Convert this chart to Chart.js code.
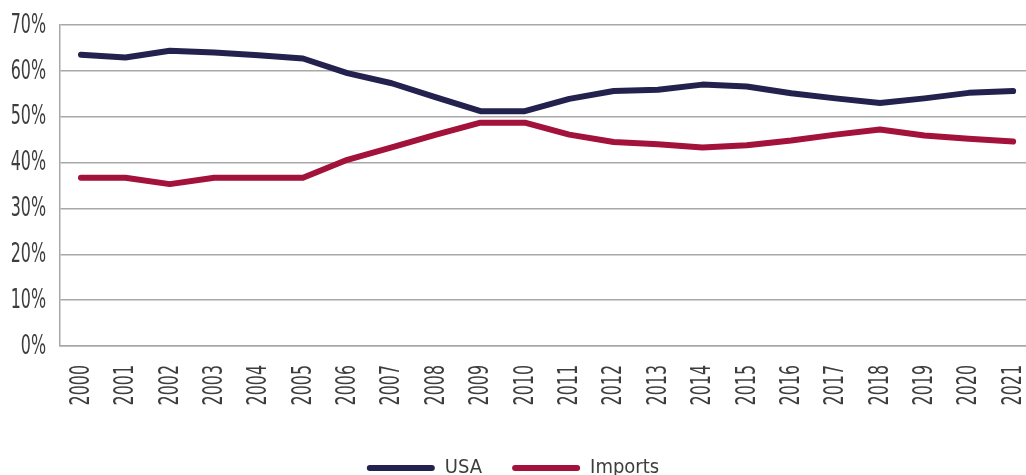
<!DOCTYPE html>
<html>
<head>
<meta charset="utf-8">
<script src="https://cdn.jsdelivr.net/npm/chart.js@4/dist/chart.umd.min.js"></script>
<style>
  html, body { margin: 0; padding: 0; background: #fff; overflow: hidden; }
  #wrap { width: 1026px; height: 488px; }
</style>
</head>
<body>
<div id="wrap"><canvas id="chart"></canvas></div>
<script>
"use strict";

// Years on the x axis
const years = [2000, 2001, 2002, 2003, 2004, 2005, 2006, 2007, 2008, 2009, 2010,
  2011, 2012, 2013, 2014, 2015, 2016, 2017, 2018, 2019, 2020, 2021];

// Share of the market, in percent
const usa = [63.5, 62.9, 64.4, 64.0, 63.4, 62.7, 59.5, 57.3, 54.2, 51.2, 51.2,
  53.9, 55.6, 55.9, 57.0, 56.6, 55.1, 54.0, 53.0, 54.0, 55.2, 55.6];
const imports = [36.7, 36.7, 35.3, 36.7, 36.7, 36.7, 40.6, 43.3, 46.1, 48.7, 48.7,
  46.1, 44.5, 44.0, 43.3, 43.8, 44.8, 46.1, 47.2, 45.9, 45.2, 44.6];

const yTicks = [0, 10, 20, 30, 40, 50, 60, 70];

const FONT = "'DejaVu Sans Condensed', 'DejaVu Sans', sans-serif";
const TEXT = "#3d3d3d";
const GRID = "#a8a8a8";
const SQUEEZE = 0.68; // the original uses a very narrow face

const toPoints = (values) => values.map((v, i) => ({ x: years[i], y: v }));

const usaSet = {
  label: "USA",
  data: toPoints(usa),
  borderColor: "#23224f",
  backgroundColor: "#23224f",
  borderWidth: 6,
  pointRadius: 0,
  tension: 0,
  borderCapStyle: "round",
  borderJoinStyle: "round",
};

const importsSet = {
  label: "Imports",
  data: toPoints(imports),
  borderColor: "#a3123a",
  backgroundColor: "#a3123a",
  borderWidth: 6,
  pointRadius: 0,
  tension: 0,
  borderCapStyle: "round",
  borderJoinStyle: "round",
};

// draws the tick labels with a horizontally squeezed font
const narrowTicks = {
  id: "narrowTicks",
  afterDraw(chart) {
    const ctx = chart.ctx;
    const xs = chart.scales.x;
    const ys = chart.scales.y;
    ctx.save();
    ctx.fillStyle = TEXT;
    ctx.font = "26px " + FONT;
    ctx.textBaseline = "middle";

    // y labels, right aligned next to the axis
    ctx.textAlign = "right";
    for (const v of yTicks) {
      ctx.save();
      ctx.translate(ys.right - 14, ys.getPixelForValue(v) + 1);
      ctx.scale(SQUEEZE, 1);
      ctx.fillText(v + "%", 0, 0);
      ctx.restore();
    }

    // x labels, turned to read upwards
    for (const yr of years) {
      ctx.save();
      ctx.translate(xs.getPixelForValue(yr) + 1, xs.top + 19);
      ctx.rotate(-Math.PI / 2);
      ctx.scale(SQUEEZE, 1);
      ctx.fillText(String(yr), 0, 0);
      ctx.restore();
    }
    ctx.restore();
  },
};

const config = {
  type: "line",
  data: { datasets: [usaSet, importsSet] },
  options: {
    responsive: true,
    maintainAspectRatio: false,
    animation: false,
    layout: { padding: { top: 25, right: 0, left: 0, bottom: 0 } },
    plugins: {
      tooltip: { enabled: false },
      legend: {
        position: "bottom",
        labels: {
          font: { family: FONT, size: 20 },
          color: TEXT,
          boxWidth: 68,
          boxHeight: 6,
          useBorderRadius: true,
          borderRadius: 3,
          padding: 30,
          generateLabels: (chart) => chart.data.datasets.map((ds, i) => ({
            text: ds.label,
            fillStyle: ds.borderColor,
            strokeStyle: ds.borderColor,
            lineWidth: 0,
            borderRadius: 3,
            fontColor: TEXT,
            datasetIndex: i,
            hidden: false,
          })),
        },
      },
    },
    scales: {
      x: {
        type: "linear",
        min: 1999.527,
        max: 2021.29,
        afterBuildTicks: (scale) => {
          scale.ticks = years.map((y) => ({ value: y }));
        },
        afterFit: (scale) => { scale.height = 82; },
        grid: { display: false, drawTicks: false },
        border: { display: true, color: GRID, width: 1.5 },
        ticks: { display: false },
      },
      y: {
        min: 0,
        max: 70,
        afterBuildTicks: (scale) => {
          scale.ticks = yTicks.map((v) => ({ value: v }));
        },
        afterFit: (scale) => { scale.width = 60; },
        grid: { color: GRID, lineWidth: 1.5, drawTicks: false },
        border: { display: true, color: GRID, width: 1.5 },
        ticks: { display: false },
      },
    },
  },
  plugins: [narrowTicks],
};

new Chart(document.querySelector("#chart"), config);
</script>
</body>
</html>
